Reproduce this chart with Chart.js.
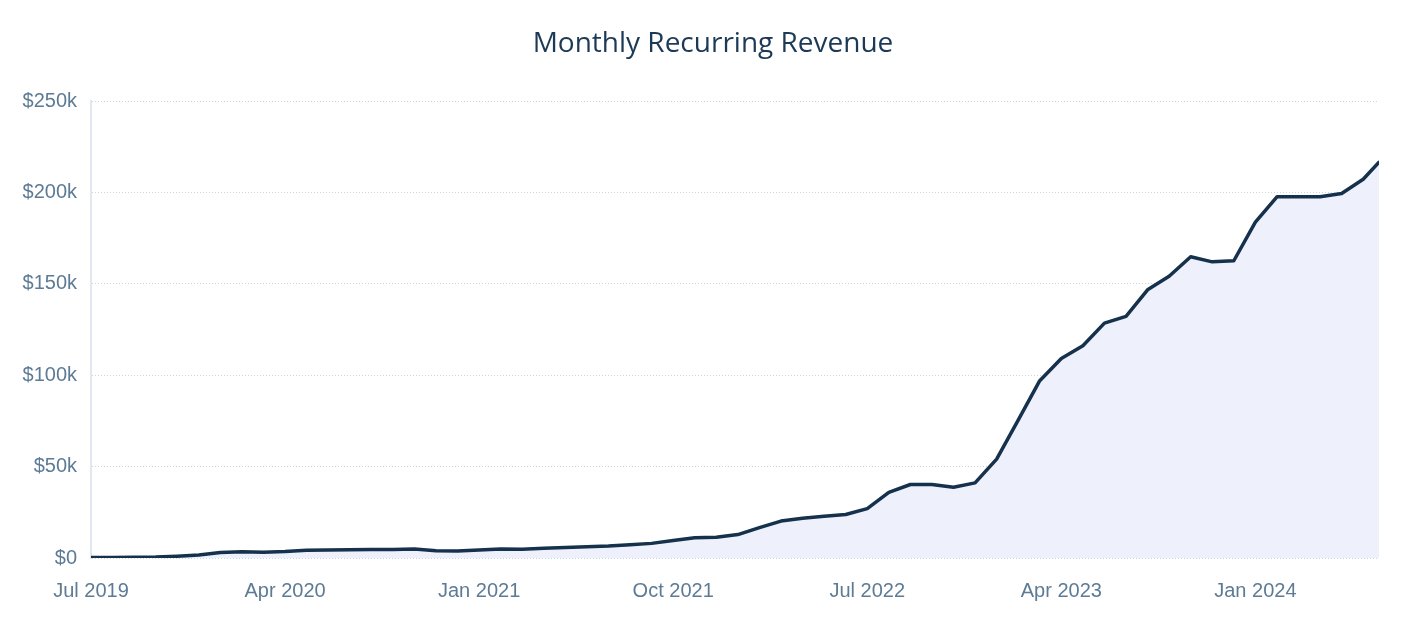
<!DOCTYPE html>
<html>
<head>
<meta charset="utf-8">
<title>Monthly Recurring Revenue</title>
<script src="https://cdn.jsdelivr.net/npm/chart.js@4.4.1/dist/chart.umd.min.js"></script>
<style>
  html, body { margin: 0; padding: 0; background: #ffffff; }
  #wrap { position: relative; width: 1418px; height: 618px; }
  #title {
    position: absolute; left: 8px; top: 24px; width: 1410px; margin: 0;
    text-align: center; font: 400 28px/34px "Open Sans", "Noto Sans", sans-serif;
    color: #1c3a56;
  }
</style>
</head>
<body>
<div id="wrap">
  <canvas id="mrr"></canvas>
  <h1 id="title">Monthly Recurring Revenue</h1>
</div>
<script>
// one point per month, the last one is a part month (data up to late June 2024)
const pointDates = [
  '2019-07', '2019-08', '2019-09', '2019-10', '2019-11', '2019-12',
  '2020-01', '2020-02', '2020-03', '2020-04', '2020-05', '2020-06',
  '2020-07', '2020-08', '2020-09', '2020-10', '2020-11', '2020-12',
  '2021-01', '2021-02', '2021-03', '2021-04', '2021-05', '2021-06',
  '2021-07', '2021-08', '2021-09', '2021-10', '2021-11', '2021-12',
  '2022-01', '2022-02', '2022-03', '2022-04', '2022-05', '2022-06',
  '2022-07', '2022-08', '2022-09', '2022-10', '2022-11', '2022-12',
  '2023-01', '2023-02', '2023-03', '2023-04', '2023-05', '2023-06',
  '2023-07', '2023-08', '2023-09', '2023-10', '2023-11', '2023-12',
  '2024-01', '2024-02', '2024-03', '2024-04', '2024-05', '2024-06',
  '2024-06-23'
];
// MRR in dollars
const mrrValues = [
  300, 300, 400, 500, 1000, 1600,
  3000, 3400, 3100, 3500, 4200, 4400,
  4500, 4600, 4700, 4900, 4000, 3800,
  4400, 4900, 4800, 5400, 5800, 6200,
  6500, 7200, 8000, 9600, 11100, 11300,
  12800, 16600, 20200, 21800, 22800, 23800,
  27000, 35900, 40200, 40200, 38700, 41100,
  54100, 75400, 97000, 109100, 116100, 128500,
  132200, 146700, 154100, 164800, 162000, 162600,
  183700, 197600, 197600, 197600, 199400, 207200,
  216500
];
// x axis labels, one every 9 months starting at Jul 2019
const tickLabels = ['Jul 2019', 'Apr 2020', 'Jan 2021', 'Oct 2021', 'Jul 2022', 'Apr 2023', 'Jan 2024'];
const tickStep = 9;
const yTicks = [0, 50000, 100000, 150000, 200000, 250000];

//months since Jul 2019 (day part gives a fraction of the month)
const monthIndex = (d) => {
  const [y, m, day] = d.split('-').map(Number);
  const daysInMonth = new Date(y, m, 0).getDate();
  return (y - 2019) * 12 + (m - 7) + ((day || 1) - 1) / daysInMonth;
};
const points = pointDates.map((d, i) => ({ x: monthIndex(d), y: mrrValues[i] }));
const lastX = points[points.length - 1].x;

const tickColor = '#5d7b95';
const tickFont = { family: '"Liberation Sans", Arial, sans-serif', size: 20 };

new Chart(document.getElementById('mrr'), {
  type: 'line',
  data: {
    datasets: [{
      data: points,
      borderColor: '#15314c',
      borderWidth: 3.5,
      backgroundColor: '#eef1fb',
      fill: 'origin',
      tension: 0,
      pointRadius: 0,
      borderJoinStyle: 'round',
      borderCapStyle: 'round'
    }]
  },
  options: {
    responsive: true,
    maintainAspectRatio: false,
    animation: false,
    // top space is for the html title
    layout: { padding: { left: 10, right: 39, top: 101, bottom: 0 } },
    plugins: {
      legend: { display: false },
      tooltip: { enabled: false }
    },
    scales: {
      x: {
        type: 'linear',
        min: 0,
        max: lastX,
        grid: { display: false },
        border: { display: false },
        ticks: {
          padding: 13,
          color: tickColor,
          font: tickFont,
          maxRotation: 0,
          callback: (v) => tickLabels[Math.round(v / tickStep)]
        },
        // one tick per label, every 9 months
        afterBuildTicks: (scale) => {
          scale.ticks = tickLabels.map((_, i) => ({ value: i * tickStep }));
        },
        afterFit: (scale) => { scale.height = 60; }
      },
      y: {
        min: 0,
        max: 250000,
        grid: {
          color: '#cad6e2',
          lineWidth: 1,
          drawTicks: false
        },
        // in v4 the dash here is used for the grid lines
        border: { display: true, color: '#e0e7ef', width: 2, dash: [1, 2] },
        ticks: {
          stepSize: 50000,
          padding: 14,
          color: tickColor,
          font: tickFont,
          callback: (v) => (yTicks.includes(v) ? '$' + (v === 0 ? '0' : v / 1000 + 'k') : '')
        },
        afterFit: (scale) => { scale.width = 81; }
      }
    }
  }
});
</script>
</body>
</html>
